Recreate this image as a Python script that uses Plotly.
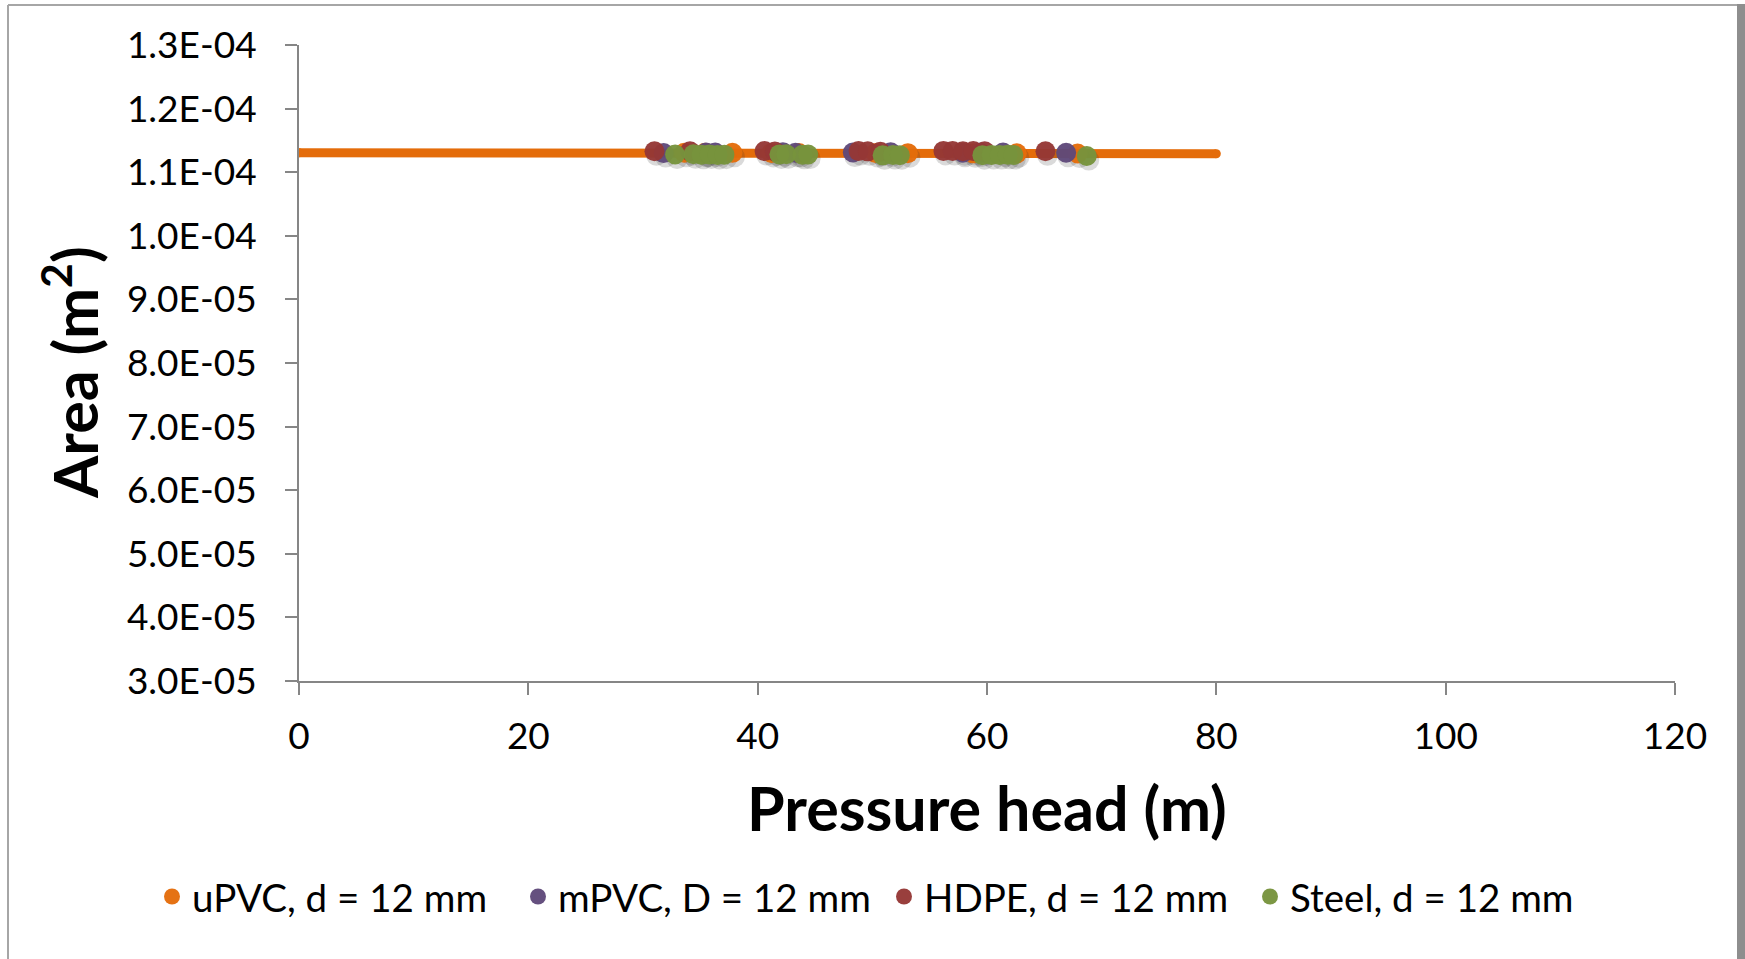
import plotly.graph_objects as go

# Pressure head (m) and measured cross-sectional area (m^2) per pipe material
upvc_x = [33.6, 35.4, 37.8, 41.2, 43.6, 50.3, 53.1, 58.8, 62.6, 67.9]
upvc_y = [1.1306e-4, 1.1305e-4, 1.1304e-4, 1.1303e-4, 1.1302e-4,
          1.1300e-4, 1.1299e-4, 1.1297e-4, 1.1296e-4, 1.1294e-4]

mpvc_x = [31.8, 35.5, 36.3, 42.2, 43.3, 48.3, 51.6, 57.9, 59.4, 61.4, 66.9]
mpvc_y = [1.1300e-4, 1.1310e-4, 1.1308e-4, 1.1315e-4, 1.1305e-4, 1.1310e-4,
          1.1312e-4, 1.1305e-4, 1.1308e-4, 1.1310e-4, 1.1305e-4]

hdpe_x = [31.0, 34.1, 40.6, 41.5, 48.8, 49.6, 50.7, 56.2, 57.0, 57.9, 58.8, 59.8, 65.1]
hdpe_y = [1.1330e-4, 1.1328e-4, 1.1332e-4, 1.1326e-4, 1.1332e-4, 1.1328e-4, 1.1322e-4,
          1.1335e-4, 1.1333e-4, 1.1330e-4, 1.1332e-4, 1.1328e-4, 1.1330e-4]

steel_x = [32.8, 34.4, 35.1, 35.8, 36.5, 37.1, 41.9, 42.5, 43.9, 44.4,
           50.9, 51.8, 52.4, 59.6, 60.4, 61.1, 61.8, 62.3, 68.7]
steel_y = [1.1278e-4, 1.1282e-4, 1.1275e-4, 1.1280e-4, 1.1272e-4, 1.1276e-4,
           1.1280e-4, 1.1282e-4, 1.1275e-4, 1.1278e-4, 1.1265e-4, 1.1270e-4,
           1.1268e-4, 1.1268e-4, 1.1272e-4, 1.1270e-4, 1.1274e-4, 1.1270e-4, 1.1255e-4]

# Linear fit of the uPVC area, extended over 0-80 m
trend_x = [0, 80]
trend_y = [1.1305e-4, 1.1290e-4]

y_tick_vals = [3e-5, 4e-5, 5e-5, 6e-5, 7e-5, 8e-5, 9e-5, 1.0e-4, 1.1e-4, 1.2e-4, 1.3e-4]
y_tick_labels = ["3.0E-05", "4.0E-05", "5.0E-05", "6.0E-05", "7.0E-05", "8.0E-05",
                 "9.0E-05", "1.0E-04", "1.1E-04", "1.2E-04", "1.3E-04"]
x_tick_vals = [0, 20, 40, 60, 80, 100, 120]
x_tick_labels = ["0", "20", "40", "60", "80", "100", "120"]

FONT = "Lato"
AXIS_GREY = "#868686"

W, H = 1745, 959
ML, MR, MT, MB = 299, 70, 45, 278
PW, PH = W - ML - MR, H - MT - MB


def px_x(p):
    return (p - ML) / PW


def px_y(p):
    return (H - MB - p) / PH


series = [
    ("uPVC, d = 12 mm", upvc_x, upvc_y, "#E46C0A"),
    ("mPVC, D = 12 mm", mpvc_x, mpvc_y, "#5F497A"),
    ("HDPE, d = 12 mm", hdpe_x, hdpe_y, "#953735"),
    ("Steel, d = 12 mm", steel_x, steel_y, "#77933C"),
]

fig = go.Figure()

# trend line (round ends via end markers)
fig.add_trace(go.Scatter(
    x=trend_x, y=trend_y, mode="lines+markers",
    line=dict(color="#E46C0A", width=9),
    marker=dict(color="#E46C0A", size=9),
    showlegend=False, hoverinfo="skip",
))

# soft drop shadows under the markers
dx = 2.0 * 120 / PW
dy = 4.0 * 1e-4 / PH
for name, xs, ys, col in series:
    fig.add_trace(go.Scatter(
        x=[v + dx for v in xs], y=[v - dy for v in ys], mode="markers",
        marker=dict(color="rgba(50,50,50,0.18)", size=21, line=dict(width=0)),
        showlegend=False, hoverinfo="skip",
    ))

for name, xs, ys, col in series:
    fig.add_trace(go.Scatter(
        x=xs, y=ys, mode="markers", name=name,
        marker=dict(color=col, size=20, opacity=0.96, line=dict(width=0)),
    ))

shapes = [
    # chart frame
    dict(type="line", xref="paper", yref="paper", x0=px_x(8), x1=px_x(8),
         y0=px_y(5), y1=px_y(965), line=dict(color="#a6a6a6", width=2)),
    dict(type="line", xref="paper", yref="paper", x0=px_x(8), x1=px_x(1738),
         y0=px_y(5), y1=px_y(5), line=dict(color="#a6a6a6", width=2)),
    dict(type="rect", xref="paper", yref="paper", x0=px_x(1737), x1=px_x(1745),
         y0=px_y(965), y1=px_y(4), line=dict(width=0), fillcolor="#8e8e8e"),
]

annotations = [
    dict(text="<b>Pressure head (m)</b>", xref="paper", yref="paper",
         x=px_x(987), y=px_y(807), xanchor="center", yanchor="middle",
         showarrow=False, font=dict(family=FONT, size=61, color="black")),
    dict(text="<b>Area (m<sup>2</sup>)</b>", xref="paper", yref="paper",
         x=px_x(70), y=px_y(373), xanchor="center", yanchor="middle",
         textangle=-90, showarrow=False,
         font=dict(family=FONT, size=61, color="black")),
]

fig.update_layout(
    width=W, height=H,
    margin=dict(l=ML, r=MR, t=MT, b=MB, autoexpand=False),
    paper_bgcolor="white", plot_bgcolor="white",
    font=dict(family=FONT, color="black"),
    shapes=shapes, annotations=annotations,
    legend=dict(
        orientation="h", x=px_x(152), y=px_y(897), xanchor="left", yanchor="middle",
        font=dict(family=FONT, size=38.5, color="black"),
        entrywidth=321, entrywidthmode="pixels",
        bgcolor="rgba(0,0,0,0)",
    ),
    xaxis=dict(
        range=[0, 120], tickvals=x_tick_vals, ticktext=x_tick_labels,
        showgrid=False, zeroline=False, showline=True,
        linecolor=AXIS_GREY, linewidth=2,
        ticks="outside", ticklen=12, tickwidth=2, tickcolor=AXIS_GREY,
        tickfont=dict(family=FONT, size=37, color="black"),
        ticklabelstandoff=10,
    ),
    yaxis=dict(
        range=[3e-5, 1.3e-4], tickvals=y_tick_vals, ticktext=y_tick_labels,
        showgrid=False, zeroline=False, showline=True,
        linecolor=AXIS_GREY, linewidth=2,
        ticks="outside", ticklen=12, tickwidth=2, tickcolor=AXIS_GREY,
        tickfont=dict(family=FONT, size=37, color="black"),
        ticklabelstandoff=21,
    ),
)

fig.write_html("out.html")
